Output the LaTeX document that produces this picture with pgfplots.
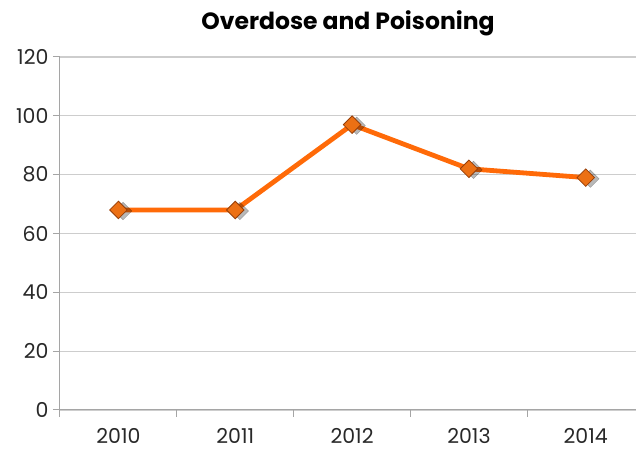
\documentclass[border=0pt]{standalone}
\usepackage{fontspec}
\setmainfont{Poppins}
\usepackage{pgfplots}
\pgfplotsset{compat=1.18}
\definecolor{lineor}{RGB}{255,106,8}
\definecolor{markor}{RGB}{236,112,20}
\definecolor{markedge}{RGB}{150,62,8}
\definecolor{gridg}{RGB}{205,205,205}
\definecolor{axisg}{RGB}{165,165,165}
\definecolor{txt}{RGB}{40,40,40}
\begin{document}
\begin{tikzpicture}
\begin{axis}[
  name=ax,
  scale only axis,
  width=576pt, height=353pt,
  xmin=-0.5, xmax=4.43,
  ymin=0, ymax=120,
  ytick={0,20,...,120},
  ymajorgrids, grid style={gridg, line width=1.2pt},
  axis x line*=bottom, axis y line*=left,
  axis line style={axisg, line width=1pt},
  tick align=outside,
  major tick length=7pt,
  tick style={axisg, line width=1pt},
  xtick={-0.5,0.5,1.5,2.5,3.5},
  xticklabels={},
  extra x ticks={0,1,2,3,4},
  extra x tick labels={2010,2011,2012,2013,2014},
  extra x tick style={major tick length=0pt, grid=none},
  tick label style={font=\fontsize{20.5}{22}\selectfont, text=txt},
  yticklabel style={xshift=-1pt},
  xticklabel style={yshift=-15pt},
  /pgf/number format/assume math mode=true,
  title={\bfseries Overdose and Poisoning},
  title style={font=\fontsize{23.5}{26}\selectfont, yshift=12pt},
]
\addplot[draw=none, mark=square*, mark size=6.2pt,
  mark options={rotate=45, fill=black, draw=none, opacity=0.28, xshift=2.5pt, yshift=-4pt}]
  coordinates {(0,68)(1,68)(2,97)(3,82)(4,79)};
\addplot[lineor, line width=4.8pt, mark=square*, mark size=6.2pt,
  mark options={rotate=45, fill=markor, draw=markedge, line width=0.8pt}]
  coordinates {(0,68)(1,68)(2,97)(3,82)(4,79)};
\end{axis}
\pgfresetboundingbox
\path[use as bounding box] ([shift={(-60pt,-40pt)}]ax.south west) rectangle ([shift={(0pt,57pt)}]ax.north east);
\end{tikzpicture}
\end{document}
